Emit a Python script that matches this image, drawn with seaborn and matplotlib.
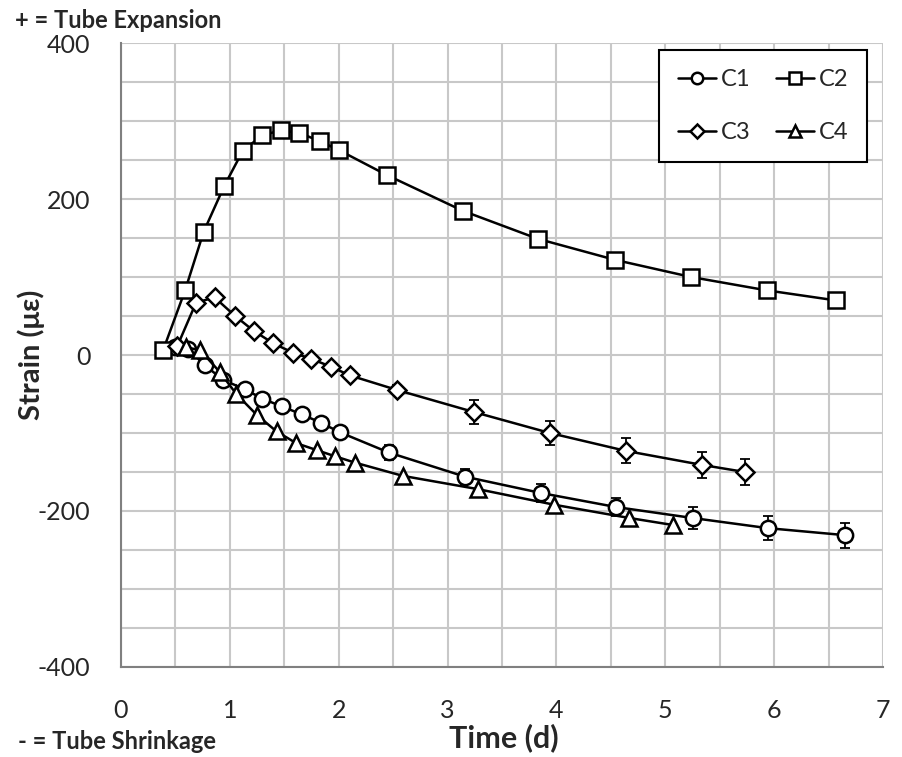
import numpy as np
import pandas as pd
import matplotlib
matplotlib.use("Agg")
import matplotlib.pyplot as plt
import seaborn as sns
from matplotlib.ticker import MultipleLocator

sns.set_style("white")
plt.rcParams['font.family'] = ['Lato', 'DejaVu Sans']
plt.rcParams['axes.unicode_minus'] = False

# C1 (circles)
c1_t = [0.50, 0.62, 0.77, 0.94, 1.14, 1.30, 1.48, 1.66, 1.84, 2.01, 2.46, 3.16, 3.86, 4.55, 5.25, 5.94, 6.65]
c1_s = [10, 8, -13, -32, -44, -56, -66, -76, -87, -99, -125, -156, -177, -195, -209, -222, -231]
c1_e = [0, 0, 0, 0, 0, 0, 0, 0, 0, 0, 10, 10, 12, 12, 14, 15, 16]
# C2 (squares)
c2_t = [0.39, 0.59, 0.76, 0.95, 1.12, 1.30, 1.47, 1.64, 1.83, 2.00, 2.44, 3.14, 3.83, 4.54, 5.24, 5.93, 6.57]
c2_s = [7, 83, 158, 217, 262, 282, 288, 285, 274, 263, 231, 185, 149, 122, 100, 83, 70]
# C3 (diamonds)
c3_t = [0.52, 0.69, 0.86, 1.05, 1.22, 1.40, 1.58, 1.75, 1.93, 2.10, 2.54, 3.24, 3.94, 4.64, 5.34, 5.73]
c3_s = [12, 67, 74, 50, 31, 15, 3, -5, -15, -26, -45, -73, -100, -123, -141, -150]
c3_e = [0, 0, 0, 0, 0, 0, 0, 0, 0, 0, 6, 15, 15, 16, 17, 17]
# C4 (triangles)
c4_t = [0.60, 0.73, 0.91, 1.06, 1.25, 1.43, 1.61, 1.80, 1.97, 2.15, 2.59, 3.28, 3.98, 4.67, 5.07]
c4_s = [10, 6, -22, -50, -77, -98, -113, -122, -130, -138, -155, -172, -192, -209, -218]

fig = plt.figure(figsize=(9.02, 7.57), dpi=100)
ax = fig.add_axes([0.134, 0.119, 0.845, 0.824])

series = [
    ("C1", c1_t, c1_s, c1_e, "o", 11),
    ("C2", c2_t, c2_s, None, "s", 11),
    ("C3", c3_t, c3_s, c3_e, "D", 9),
    ("C4", c4_t, c4_s, None, "^", 11),
]

for name, t, s, e, mk, ms in series:
    if e is not None:
        ax.errorbar(t, s, yerr=e, fmt="none", ecolor="black", elinewidth=1.3,
                    capsize=3.5, capthick=1.3, zorder=2)
    sns.lineplot(x=t, y=s, ax=ax, color="black", linewidth=1.8, marker=mk,
                 markersize=ms, markerfacecolor="white", markeredgecolor="black",
                 markeredgewidth=1.8, label=name, zorder=3)

ax.set_xlim(0, 7)
ax.set_ylim(-400, 400)
ax.xaxis.set_major_locator(MultipleLocator(1))
ax.xaxis.set_minor_locator(MultipleLocator(0.5))
ax.yaxis.set_major_locator(MultipleLocator(200))
ax.yaxis.set_minor_locator(MultipleLocator(50))
ax.grid(True, which="both", color="#c8c8c8", linewidth=1.5)
ax.set_axisbelow(True)
for side in ["top", "right"]:
    ax.spines[side].set_visible(False)
for side in ["left", "bottom"]:
    ax.spines[side].set_color("#808080")
    ax.spines[side].set_linewidth(1.5)
ax.tick_params(axis="both", which="major", labelsize=18, length=10, width=1.3,
               color="#808080", direction="inout")
ax.tick_params(axis="y", which="major", pad=17)
ax.tick_params(axis="x", which="major", pad=18)
ax.tick_params(axis="y", which="minor", length=4, color="#808080", direction="in")

ax.set_xlabel("Time (d)", fontsize=22, fontweight="bold", va="top")
ax.xaxis.set_label_coords(0.503, -0.09)
ax.set_ylabel("Strain (με)", fontsize=21, fontweight="bold", va="center")
ax.yaxis.set_label_coords(-0.118, 0.5)

fig.text(0.017, 0.973, "+ = Tube Expansion", fontsize=17, fontweight="bold", va="center")
fig.text(0.02, 0.02, "- = Tube Shrinkage", fontsize=17, fontweight="bold", va="center")

# legend reads C1 C2 / C3 C4 row-wise
h, l = ax.get_legend_handles_labels()
order = [0, 2, 1, 3]
leg = ax.legend([h[i] for i in order], [l[i] for i in order], ncol=2, loc="upper right",
                bbox_to_anchor=(0.979, 0.989), borderaxespad=0, fontsize=17,
                frameon=True, fancybox=False, edgecolor="black", framealpha=1,
                handlelength=1.6, columnspacing=1.1, labelspacing=1.35,
                borderpad=0.8, handletextpad=0.2, markerscale=0.75)
leg.get_frame().set_linewidth(1.5)

fig.savefig("out.png", dpi=100)
